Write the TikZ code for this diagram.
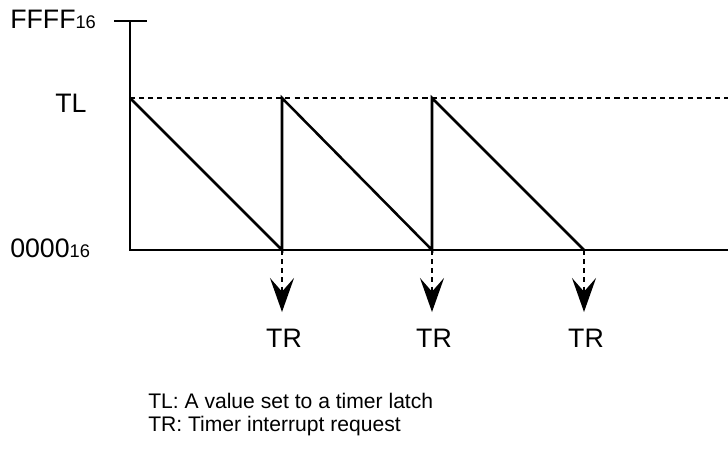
\documentclass[tikz,border=0pt]{standalone}
\usepackage{fontspec}
\setmainfont{Liberation Sans}
\usetikzlibrary{arrows.meta}

\tikzset{
  axislabel/.style={font=\fontsize{19}{22}\selectfont,inner sep=0pt},
  notelabel/.style={font=\fontsize{15}{17}\selectfont,inner sep=0pt,anchor=base west},
  solidline/.style={line width=1.8pt},
  levelline/.style={line width=1.4pt,dash pattern=on 3.6pt off 2.9pt},
  request/.style={line width=1.6pt,dash pattern=on 3.6pt off 2.9pt,-{Stealth[length=0.85cm,width=0.6cm,inset=0.34cm]}}
}
\newcommand{\hexsub}{{\fontsize{13}{15}\selectfont 16}}

\begin{document}
\begin{tikzpicture}[x=0.025cm,y=-0.025cm]
            \useasboundingbox (0,0) rectangle (728,450);

            \coordinate (tickL) at (114,21);
            \coordinate (tickR) at (147,21);
            \coordinate (top) at (130,21);
            \coordinate (origin) at (130,250);
            \coordinate (baseend) at (728,250);
            \coordinate (level) at (130,98);
            \coordinate (levelend) at (728,98);

            \coordinate (p1) at (282,98);
            \coordinate (p2) at (432,98);
            \coordinate (b1) at (282,250);
            \coordinate (b2) at (432,250);
            \coordinate (b3) at (584,250);
            \coordinate (r1) at (282,312);
            \coordinate (r2) at (432,312);
            \coordinate (r3) at (584,312);

            \node[axislabel,anchor=base west] (ffff) at (10,28) {FFFF\hexsub};
            \node[axislabel,anchor=base west] (tl) at (55,112) {TL};
            \node[axislabel,anchor=base west] (zero) at (10,257) {0000\hexsub};

            \draw[solidline] (tickL) -- (tickR);
            \draw[solidline] (top) -- (origin) -- (baseend);
            \draw[levelline] (level) -- (levelend);
            \draw[solidline] (level) -- (b1) -- (p1) -- (b2) -- (p2) -- (b3);

            \foreach \i/\x in {1/284,2/434,3/586} {
              \draw[request] (b\i) -- (r\i);
              \node[axislabel,anchor=base] (tr\i) at (\x,347) {TR};
            }

            \node[notelabel] (legTL) at (148,408) {TL: A value set to a timer latch};
            \node[notelabel] (legTR) at (148,431) {TR: Timer interrupt request};
          \end{tikzpicture}
\end{document}
